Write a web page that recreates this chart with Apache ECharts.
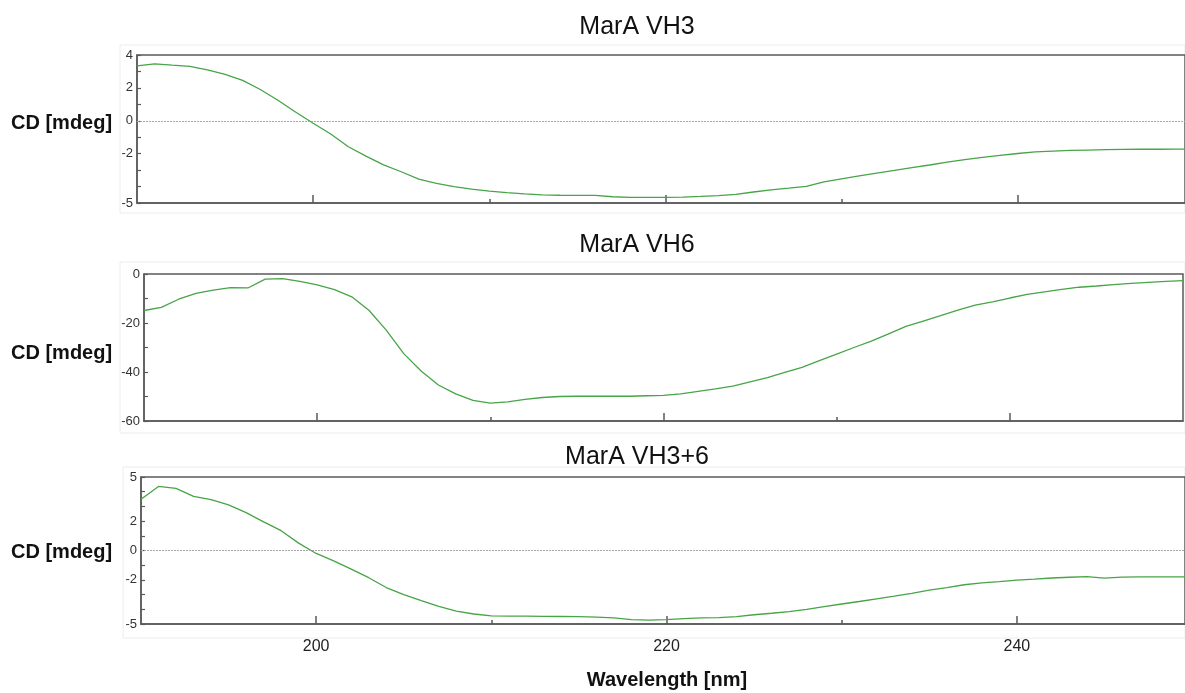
<!DOCTYPE html>
<html>
<head>
<meta charset="utf-8">
<script src="https://cdn.jsdelivr.net/npm/echarts@6/dist/echarts.min.js"></script>
<style>
html,body{margin:0;padding:0;background:#fff;}
#chart{width:1185px;height:693px;}
</style>
</head>
<body>
<div id="chart"></div>
<script>
// Wavelengths (nm), 1 nm steps
const wavelength = [190,191,192,193,194,195,196,197,198,199,200,201,202,203,204,205,206,207,208,209,210,211,212,213,214,215,216,217,218,219,220,221,222,223,224,225,226,227,228,229,230,231,232,233,234,235,236,237,238,239,240,241,242,243,244,245,246,247,248,249,250];

// MarA VH3 (mdeg)
const vh3 = [3.34,3.46,3.38,3.31,3.10,2.82,2.46,1.90,1.25,0.53,-0.15,-0.80,-1.58,-2.15,-2.68,-3.10,-3.55,-3.80,-4.00,-4.16,-4.28,-4.37,-4.44,-4.50,-4.53,-4.54,-4.54,-4.62,-4.66,-4.66,-4.66,-4.64,-4.60,-4.55,-4.48,-4.33,-4.20,-4.10,-3.99,-3.72,-3.53,-3.35,-3.18,-3.02,-2.85,-2.69,-2.52,-2.36,-2.22,-2.10,-1.99,-1.89,-1.84,-1.80,-1.78,-1.76,-1.74,-1.73,-1.73,-1.72,-1.72];

// MarA VH6 (mdeg)
const vh6 = [-14.9,-13.6,-10.3,-7.9,-6.6,-5.6,-5.7,-2.1,-1.9,-3.0,-4.4,-6.4,-9.3,-14.9,-23.0,-32.5,-39.6,-45.3,-48.9,-51.6,-52.7,-52.2,-51.2,-50.4,-50.0,-49.9,-49.9,-49.9,-49.9,-49.7,-49.5,-48.9,-47.9,-46.9,-45.8,-44.0,-42.3,-40.2,-38.1,-35.4,-32.7,-30.0,-27.4,-24.4,-21.4,-19.2,-17.0,-14.7,-12.7,-11.4,-9.8,-8.3,-7.3,-6.3,-5.4,-4.9,-4.3,-3.8,-3.4,-3.0,-2.7];

// MarA VH3+6 (mdeg)
const vh36 = [3.49,4.36,4.22,3.68,3.46,3.10,2.58,1.95,1.35,0.50,-0.20,-0.70,-1.27,-1.85,-2.52,-3.00,-3.41,-3.80,-4.12,-4.32,-4.45,-4.46,-4.47,-4.48,-4.49,-4.50,-4.53,-4.58,-4.70,-4.74,-4.70,-4.63,-4.58,-4.57,-4.50,-4.37,-4.27,-4.16,-4.00,-3.82,-3.64,-3.47,-3.29,-3.11,-2.91,-2.70,-2.52,-2.33,-2.20,-2.12,-2.02,-1.95,-1.87,-1.82,-1.78,-1.88,-1.81,-1.80,-1.80,-1.80,-1.80];

const titles = ['MarA VH3','MarA VH6','MarA VH3+6'];
const yLabelsVH3 = [4,2,0,-2,-5];
const yLabelsVH6 = [0,-20,-40,-60];
const yLabelsVH36 = [5,2,0,-2,-5];
const xMajorTicks = [200,220,240];
const xMinorTicks = [210,230];
const yAxisTitle = 'CD [mdeg]';
const xAxisTitle = 'Wavelength [nm]';

const FONT = '"Liberation Sans", Arial, sans-serif';
const AXIS_COLOR = '#5a5a5a';
const LINE_COLOR = '#47a447';

const grids = [
  {left:137, top:55, width:1048, height:148, xMax:249.5},
  {left:144, top:274, width:1039, height:147, xMax:250},
  {left:141, top:477, width:1044, height:147, xMax:249.6}
];
const yConf = [
  {min:-5, max:4, interval:1, labels:yLabelsVH3, zero:true},
  {min:-60, max:0, interval:10, labels:yLabelsVH6, zero:false},
  {min:-5, max:5, interval:1, labels:yLabelsVH36, zero:true}
];
const seriesVals = [vh3, vh6, vh36];

const option = {
  backgroundColor:'#fff',
  animation:false,
  grid: grids.map(g => ({left:g.left, top:g.top, width:g.width, height:g.height, show:true, borderColor:AXIS_COLOR, borderWidth:1.5, backgroundColor:'#fff'})),
  xAxis: [],
  yAxis: [],
  series: [],
  graphic: []
};

grids.forEach((g, i) => {
  const isBottom = i === 2;
  option.xAxis.push({
    type:'value', gridIndex:i, position:'bottom', min:190, max:g.xMax, interval:10,
    axisLine:{show:true, onZero:false, lineStyle:{color:AXIS_COLOR, width:1.5}},
    axisTick:{show:true, inside:true, length:8, customValues:xMajorTicks, lineStyle:{color:AXIS_COLOR, width:1.5}},
    axisLabel:{show:isBottom, customValues:xMajorTicks, margin:15, fontSize:16, color:'#222', fontFamily:FONT},
    splitLine:{show:false}
  });
  option.xAxis.push({
    type:'value', gridIndex:i, position:'bottom', min:190, max:g.xMax, interval:10,
    axisLine:{show:false, onZero:false},
    axisTick:{show:true, inside:true, length:4, customValues:xMinorTicks, lineStyle:{color:AXIS_COLOR, width:1.5}},
    axisLabel:{show:false},
    splitLine:{show:false}
  });
  const y = yConf[i];
  option.yAxis.push({
    type:'value', gridIndex:i, min:y.min, max:y.max, interval:y.interval,
    axisLine:{show:true, onZero:false, lineStyle:{color:AXIS_COLOR, width:1.5}},
    axisTick:{show:true, inside:true, length:4, lineStyle:{color:AXIS_COLOR, width:1.2}},
    axisLabel:{customValues:y.labels, margin:4, fontSize:13, color:'#333', fontFamily:FONT, showMinLabel:true, showMaxLabel:true},
    splitLine:{show:false}
  });
  const s = {
    type:'line', xAxisIndex:i*2, yAxisIndex:i, showSymbol:false, symbol:'none',
    lineStyle:{color:LINE_COLOR, width:1.3}, itemStyle:{color:LINE_COLOR},
    data: wavelength.map((w, k) => [w, seriesVals[i][k]])
  };
  if (y.zero) {
    s.markLine = {silent:true, symbol:'none', label:{show:false},
      lineStyle:{type:[2,1], color:'#a8a8a8', width:1}, data:[{yAxis:0}]};
  }
  option.series.push(s);
});

const titleY = [27, 245, 457];
const cdY = [123, 353, 552];
const frames = [[120,45,1065,168],[120,262,1065,171],[123,467,1062,171]];
frames.forEach(f => option.graphic.push({type:'rect', z:-10, shape:{x:f[0], y:f[1], width:f[2], height:f[3]}, style:{fill:'none', stroke:'#ececec', lineWidth:1}}));
titles.forEach((t, i) => {
  option.graphic.push({type:'text', x:637, y:titleY[i], style:{text:t, font:'25px ' + FONT, fill:'#111', align:'center', verticalAlign:'middle'}});
  option.graphic.push({type:'text', x:11, y:cdY[i], style:{text:yAxisTitle, font:'bold 20px ' + FONT, fill:'#111', align:'left', verticalAlign:'middle'}});
});
option.graphic.push({type:'text', x:667, y:680, style:{text:xAxisTitle, font:'bold 20px ' + FONT, fill:'#111', align:'center', verticalAlign:'middle'}});

const chart = echarts.init(document.getElementById('chart'), null, {renderer:'canvas'});
chart.setOption(option);
</script>
</body>
</html>
